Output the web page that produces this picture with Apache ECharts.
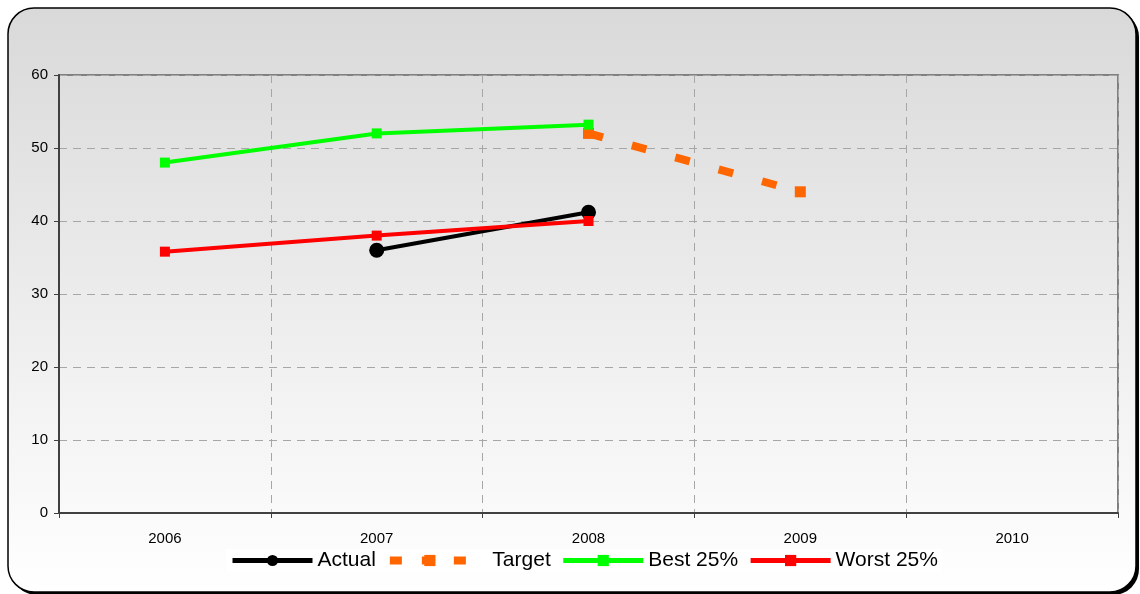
<!DOCTYPE html>
<html>
<head>
<meta charset="utf-8">
<script src="https://cdn.jsdelivr.net/npm/echarts@6/dist/echarts.min.js"></script>
<style>
  html, body { margin: 0; padding: 0; background: #fff; }
  #chart { width: 1140px; height: 594px; }
</style>
</head>
<body>
<div id="chart"></div>
<script>
const years = ['2006', '2007', '2008', '2009', '2010']
const actual = [null, 36, 41.2, null, null]
const target = [null, null, 52, 44, null]
const best = [48, 52, 53.2, null, null]
const worst = [35.8, 38, 40, null, null]

const chart = echarts.init(document.getElementById('chart'))

// plain line series, only colour and marker change
function lineSeries(name, data, color, symbol, size, lineStyle) {
  return {
    name: name,
    type: 'line',
    data: data,
    connectNulls: false,
    symbol: symbol,
    symbolSize: size,
    color: color,
    itemStyle: { color: color },
    lineStyle: Object.assign({ color: color, width: 4 }, lineStyle || {}),
    emphasis: { disabled: true },
    animation: false
  }
}

chart.setOption({
  animation: false,
  graphic: [
    // shadow behind the frame
    {
      type: 'rect', z: -10, silent: true,
      shape: { x: 11, y: 11, width: 1128, height: 584, r: 26 },
      style: { fill: '#000' }
    },
    {
      type: 'rect', z: -9, silent: true,
      shape: { x: 8, y: 8, width: 1128, height: 584, r: 26 },
      style: {
        fill: new echarts.graphic.LinearGradient(0, 0, 0, 1, [
          { offset: 0, color: '#d9d9d9' },
          { offset: 1, color: '#ffffff' }
        ]),
        stroke: '#000',
        lineWidth: 1.5
      }
    }
  ],
  grid: {
    left: 59, right: 22, top: 75, bottom: 81,
    show: true,
    borderColor: '#808080',
    borderWidth: 2,
    backgroundColor: 'transparent'
  },
  legend: {
    left: 226,
    top: 549,
    itemWidth: 80,
    itemHeight: 14,
    itemGap: 10,
    backgroundColor: 'rgba(255,255,255,0.85)',
    padding: [1, 4],
    textStyle: { fontSize: 21, color: '#000', fontFamily: 'Liberation Sans' },
    formatter: function (name) { return name === 'Target' ? '   Target' : name },
    data: [
      { name: 'Actual', lineStyle: { width: 5 } },
      { name: 'Target', lineStyle: { width: 8, type: [12, 20], cap: 'butt' } },
      { name: 'Best 25%', lineStyle: { width: 5 } },
      { name: 'Worst 25%', lineStyle: { width: 5 } }
    ]
  },
  xAxis: {
    type: 'category',
    data: years,
    boundaryGap: true,
    axisLine: { lineStyle: { color: '#404040', width: 2 } },
    axisTick: { show: true, inside: false, length: 5, lineStyle: { color: '#404040' } },
    axisLabel: { fontSize: 15, color: '#000', margin: 18, fontFamily: 'Liberation Sans' },
    splitLine: { show: true, lineStyle: { color: '#a6a6a6', type: [8, 6], width: 1 } }
  },
  yAxis: {
    type: 'value',
    min: 0, max: 60, interval: 10,
    axisLine: { show: true, lineStyle: { color: '#404040', width: 2 } },
    axisTick: { show: true, length: 5, lineStyle: { color: '#404040' } },
    axisLabel: { fontSize: 15, color: '#000', margin: 11, fontFamily: 'Liberation Sans' },
    splitLine: { show: true, lineStyle: { color: '#a6a6a6', type: [8, 6], width: 1 } }
  },
  series: [
    lineSeries('Actual', actual, '#000000', 'circle', 15),
    lineSeries('Target', target, '#ff6600', 'rect', 11, { width: 8, type: [15, 30], cap: 'butt' }),
    lineSeries('Best 25%', best, '#00ff00', 'rect', 10),
    lineSeries('Worst 25%', worst, '#ff0000', 'rect', 10)
  ]
})
</script>
</body>
</html>
